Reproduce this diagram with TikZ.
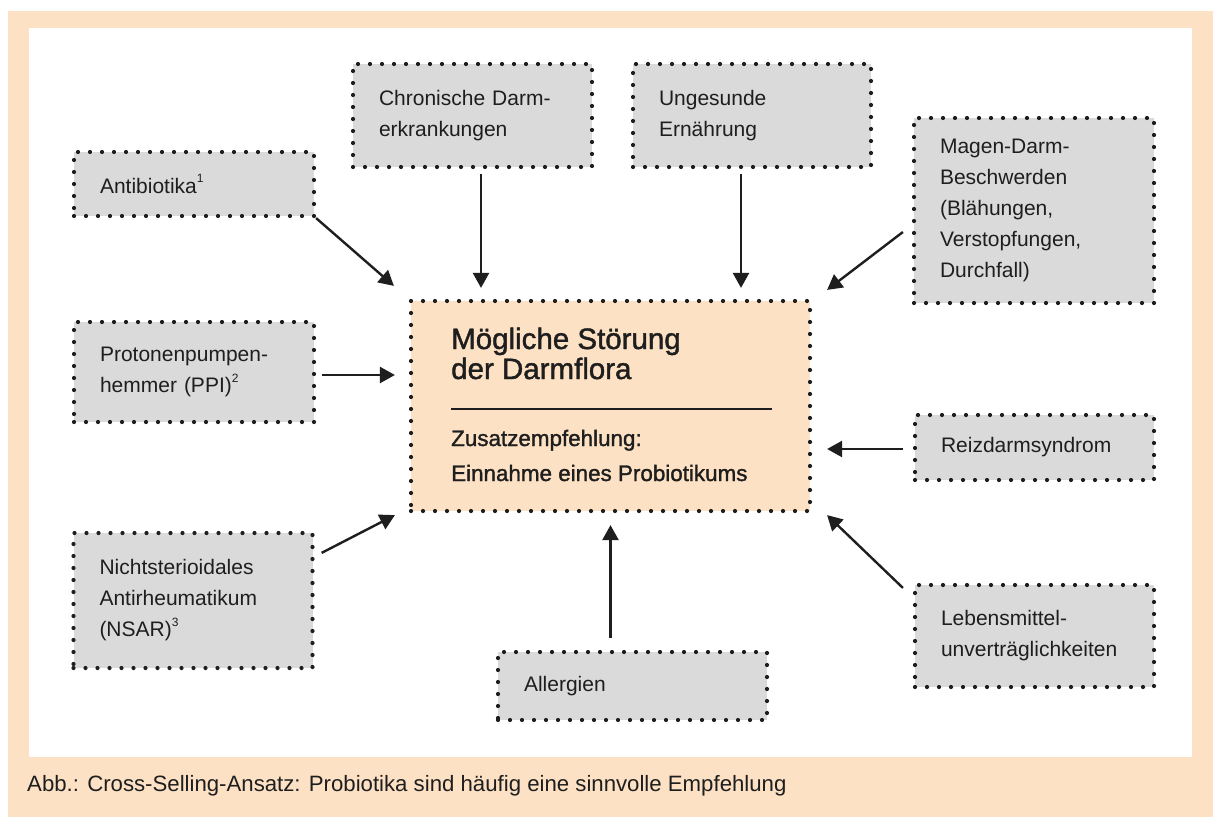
\documentclass[tikz,border=0pt]{standalone}
\usepackage{fontspec}
\setmainfont{Liberation Sans}
\newfontfamily\medfont{Liberation Sans}[FakeBold=1.4]
\usetikzlibrary{arrows.meta}

\definecolor{peach}{RGB}{252,225,196}
\definecolor{boxgray}{RGB}{218,218,218}
\definecolor{ink}{RGB}{30,30,30}

\newcommand{\fnmark}[1]{\raisebox{0.5em}{\fontsize{12}{12}\selectfont #1}}

\begin{document}
\begin{tikzpicture}[x=1pt, y=-1pt,
	dotborder/.style={draw=ink, line width=4.2pt, line cap=round, dash pattern=on 0pt off 12pt},
	cause/.style={dotborder, fill=boxgray, text=ink, align=left, text width=188pt, inner xsep=26pt, inner ysep=4pt,
		font=\fontsize{21}{31}\selectfont},
	core/.style={dotborder, fill=peach, minimum width=399pt, minimum height=210pt, inner sep=0pt},
	arr/.style={draw=ink, line width=2.4pt, -{Triangle[length=15pt, width=16pt]}}]
	
	% Frame and page size
	\useasboundingbox (0,0) rectangle (1213,817);
	\fill[peach] (8,11) rectangle (1213,817);
	\fill[white] (29,28) rectangle (1192,757);
	
	% Centre box
	\node[core] (core) at (610.5,406) {};
	\node[anchor=base west, inner sep=0pt, align=left, text=ink, font=\medfont\fontsize{29.5}{30}\selectfont] (coretitle) at (451,379) {Mögliche Störung\\der Darmflora};
	\draw[ink, line width=2pt] (451,409) -- (772,409);
	\node[anchor=base west, inner sep=0pt, align=left, text=ink, font=\medfont\fontsize{22.4}{35}\selectfont] (corenote) at (451,481) {Zusatzempfehlung:\\Einnahme eines Probiotikums};
	
	% Causes
	\node[cause, minimum height=64pt] (anti) at (194,184) {Antibiotika\fnmark{1}};
	\node[cause, text width=187pt, minimum height=103pt] (chron) at (472.5,115.5) {Chronische Darm-\\erkrankungen};
	\node[cause, text width=186pt, minimum height=103pt] (ungs) at (752,115.5) {Ungesunde\\Ernährung};
	\node[cause, minimum height=185pt] (magen) at (1034,210.5) {Magen-Darm-\\Beschwerden\\(Blähungen,\\Verstopfungen,\\Durchfall)};
	\node[cause, minimum height=100pt] (ppi) at (194,372) {Protonenpumpen-\\hemmer (PPI)\fnmark{2}};
	\node[cause, text width=187pt, minimum height=135pt] (nsar) at (193,600.5) {Nichtsterioidales\\Antirheumatikum\\(NSAR)\fnmark{3}};
	\node[cause, text width=217pt, minimum height=68pt] (allerg) at (632.5,686) {Allergien};
	\node[cause, text width=187pt, minimum height=65pt] (reiz) at (1034.5,447.5) {Reizdarmsyndrom};
	\node[cause, text width=187pt, minimum height=102pt] (lebens) at (1034.5,636) {Lebensmittel-\\unverträglichkeiten};
	
	% Arrow end points
	\coordinate (chronout) at ([xshift=8.5pt, yshift=-5pt]chron.south);
	\coordinate (ungsout) at ([xshift=-11pt, yshift=-5pt]ungs.south);
	\coordinate (ppiout) at ([xshift=6pt, yshift=-3pt]ppi.east);
	\coordinate (reizout) at ([xshift=-10pt, yshift=-1.5pt]reiz.west);
	
	% Arrows into the centre box
	\draw[arr] (anti.south east) -- ([shift={(-15pt,13pt)}]core.north west);
	\draw[arr] (chronout) -- ([yshift=11pt]chronout |- core.north);
	\draw[arr] (ungsout) -- ([yshift=11pt]ungsout |- core.north);
	\draw[arr] ([shift={(-9pt,-21.5pt)}]magen.west) -- ([shift={(15pt,9pt)}]core.north east);
	\draw[arr] (ppiout) -- ([xshift=-14pt]ppiout -| core.west);
	\draw[arr] (reizout) -- ([xshift=15pt]reizout -| core.east);
	\draw[arr] ([shift={(7pt,-22pt)}]nsar.north east) -- ([shift={(-14pt,-2pt)}]core.south west);
	\draw[arr] ([shift={(-10pt,-5pt)}]lebens.north west) -- ([shift={(15pt,-2pt)}]core.south east);
	\draw[arr, shorten <=12pt, shorten >=12pt] (allerg.north -| core.south) -- (core.south);
	
	% Caption
	\node[anchor=base west, inner sep=0pt, text=ink, font=\fontsize{22.2}{24}\selectfont] (caption) at (27,791) {Abb.: Cross-Selling-Ansatz: Probiotika sind häufig eine sinnvolle Empfehlung};
	
\end{tikzpicture}
\end{document}
